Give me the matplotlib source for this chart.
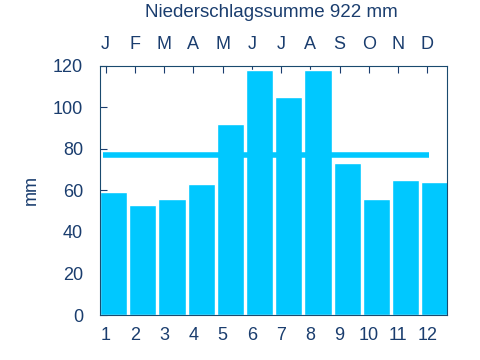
import numpy as np
import matplotlib.pyplot as plt

plt.rcParams['font.family'] = ['Liberation Sans', 'DejaVu Sans']

# --- monthly precipitation (mm) ---
months = np.arange(1, 13)
month_letters = ["J", "F", "M", "A", "M", "J", "J", "A", "S", "O", "N", "D"]
precip = [59, 53, 56, 63, 92, 118, 105, 118, 73, 56, 65, 64]
total = 922

bar_color = "#00c8ff"
text_color = "#1a3d6e"

fig = plt.figure(figsize=(4.8, 3.6), dpi=100)
ax = fig.add_axes([0.2077, 0.125, 0.7233, 0.6925])

ax.bar(months - 0.2, precip, width=0.93, align="edge", color=bar_color,
       edgecolor="white", linewidth=1, zorder=2)
ax.hlines(total / 12, 0.9, 12.05, color=bar_color, linewidth=4, zorder=3)

ax.set_xlim(0.795, 12.67)
ax.set_ylim(0, 120)
ax.set_xticks(months)
ax.set_yticks(np.arange(0, 121, 20))
ax.tick_params(axis="both", direction="in", labelsize=13, colors=text_color,
               top=True, right=False, length=5)
ax.tick_params(axis="x", pad=8.5)
ax.tick_params(axis="y", pad=12)
for s in ax.spines.values():
    s.set_color("#1a4a6e")

ax.set_ylabel("mm", fontsize=13, color=text_color, labelpad=9)

top = ax.secondary_xaxis("top")
top.set_xticks(months)
top.set_xticklabels(month_letters)
top.tick_params(length=0, labelsize=13, colors=text_color, pad=9.5)
top.spines["top"].set_visible(False)

fig.text(0.565, 0.965, f"Niederschlagssumme {total} mm", ha="center", va="center",
         fontsize=13.5, color=text_color)

fig.savefig("out.png", dpi=100)
